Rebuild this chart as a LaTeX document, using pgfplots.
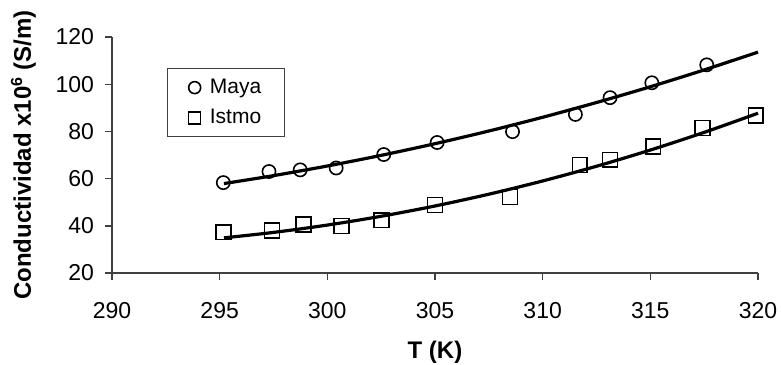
\documentclass[border=0pt]{standalone}
\usepackage{fontspec}
\setmainfont{Liberation Sans}
\usepackage{pgfplots}
\pgfplotsset{compat=1.18}
\usetikzlibrary{calc}
\begin{document}
\begin{tikzpicture}
\begin{axis}[
  name=ax,
  scale only axis,
  width=323pt, height=118pt,
  xmin=290, xmax=320, ymin=20, ymax=120,
  xtick={290,295,...,320}, ytick={20,40,...,120},
  axis x line*=bottom, axis y line*=left,
  axis line style={line width=0.7pt, color=black!75, -},
  tick style={line width=0.7pt, color=black!75},
  tick align=outside, major tick length=3.5pt,
  /pgf/number format/assume math mode=true,
  /pgf/number format/1000 sep={},
  ticklabel style={font=\fontsize{11.5}{13}\selectfont},
  xticklabel style={yshift=-7.5pt},
  yticklabel style={xshift=-2pt},
  xlabel={\textbf{T (K)}},
  ylabel={\textbf{Conductividad x10\textsuperscript{6} (S/m)}},
  label style={font=\fontsize{12}{14}\selectfont},
  xlabel style={yshift=-4.5pt},
  ylabel style={yshift=3pt},
  clip=false,
  legend style={at={(rel axis cs:0.0856,0.8674)}, anchor=north west,
    draw=black!75, line width=0.6pt, font=\fontsize{10.5}{12}\selectfont,
    nodes={inner sep=1.5pt},
    inner xsep=10pt, inner ysep=3.5pt, row sep=3.5pt, legend cell align=left},
  legend image code/.code={\draw[#1, mark size=3pt] plot coordinates {(0.1cm,0cm)};
    \path (-0.005cm,0cm) (0.3cm,0cm);},
]
\addplot[black, line width=1.6pt, smooth, forget plot] coordinates {
(295.2,57.9) (297.5,61.26) (300,65.34) (302.5,69.85) (305,74.79)
(307.5,80.17) (310,85.99) (312.5,92.24) (315,98.92) (317.5,106.05) (320,113.6)};
\addplot[black, line width=1.6pt, smooth, forget plot] coordinates {
(295.2,34.9) (297.5,37.2) (300,40.31) (302.5,44.04) (305,48.4)
(307.5,53.39) (310,59.0) (312.5,65.23) (315,72.1) (317.5,79.59) (320,87.7)};
\addplot[only marks, mark=o, mark size=3.3pt, black, line width=0.8pt] coordinates {
(295.17,58.3) (297.29,63.0) (298.74,63.7) (300.41,64.5) (302.62,70.2)
(305.1,75.3) (308.6,79.9) (311.52,87.2) (313.13,94.3) (315.07,100.6) (317.62,108.2)};
\addlegendentry{Maya}
\addplot[only marks, mark=square, mark size=3.7pt, black, line width=0.8pt] coordinates {
(295.17,37.3) (297.43,38.0) (298.9,40.6) (300.65,39.9) (302.52,42.4)
(305.0,48.8) (308.48,52.2) (311.72,65.8) (313.13,68.0) (315.13,73.6)
(317.42,81.4) (319.9,86.7)};
\addlegendentry{Istmo}
\end{axis}
\pgfresetboundingbox
\path[use as bounding box] ($(ax.south west)+(-56pt,-45.5pt)$) rectangle ($(ax.south west)+(334.5pt,136.5pt)$);
\end{tikzpicture}
\end{document}
